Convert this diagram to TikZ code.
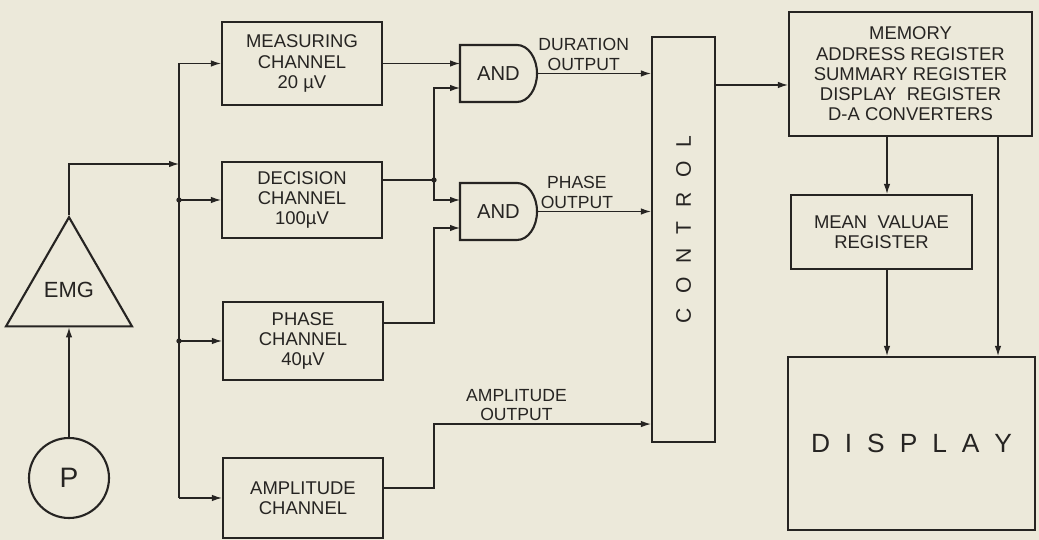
\documentclass[tikz,border=0pt]{standalone}
\usepackage{fontspec}
\setmainfont{Liberation Sans}
\usetikzlibrary{arrows.meta,shapes.geometric}
\definecolor{paper}{RGB}{236,233,218}
\definecolor{ink}{RGB}{38,36,34}
\begin{document}
\begin{tikzpicture}[font=\fontsize{10.5}{11.5}\selectfont, color=ink, line width=0.7pt,
  >={Latex[length=2mm,width=1.3mm]},
  box/.style={draw, line width=1.2pt, align=center, inner sep=1pt},
  gate/.style={minimum width=1.54cm, minimum height=1.14cm, inner sep=0pt, outer sep=0pt, font=\fontsize{11.5}{13}\selectfont},
  lbl/.style={align=center, inner sep=1.5pt, font=\fontsize{10}{11}\selectfont}]
\fill[paper] (0,0) rectangle (20.78,10.8);
\node[box, regular polygon, regular polygon sides=3, minimum size=2.91cm, inner sep=0pt, font=\fontsize{12.5}{14}\selectfont] (emg) at (1.38,5.0) {EMG};
\node[box, circle, minimum size=1.6cm, font=\fontsize{16}{18}\selectfont] (p) at (1.38,1.24) {P};
\node[box, minimum width=3.2cm, minimum height=1.66cm] (meas) at (6.04,9.53) {MEASURING\\CHANNEL\\20 µV};
\node[box, minimum width=3.2cm, minimum height=1.52cm] (dec) at (6.04,6.8) {DECISION\\CHANNEL\\100µV};
\node[box, minimum width=3.2cm, minimum height=1.56cm] (ph) at (6.06,3.98) {PHASE\\CHANNEL\\40µV};
\node[box, minimum width=3.2cm, minimum height=1.6cm] (ampl) at (6.06,0.84) {AMPLITUDE\\CHANNEL};
\node[gate] (and1) at (9.97,9.33) {AND};
\node[gate] (and2) at (9.97,6.57) {AND};
\draw[line width=1.2pt] (and1.south west) |- ([xshift=-4mm]and1.north east) arc[start angle=90, end angle=-90, x radius=4mm, y radius=5.7mm] -- cycle;
\draw[line width=1.2pt] (and2.south west) |- ([xshift=-4mm]and2.north east) arc[start angle=90, end angle=-90, x radius=4mm, y radius=5.7mm] -- cycle;
\node[box, minimum width=1.26cm, minimum height=8.1cm] (ctrl) at (13.67,6.01) {};
\node[rotate=90, font=\fontsize{12}{14}\selectfont] (ctrltext) at ([yshift=2mm]ctrl.center) {C\hspace{8pt}O\hspace{8pt}N\hspace{8pt}T\hspace{8pt}R\hspace{8pt}O\hspace{8pt}L};
\node[box, minimum width=4.86cm, minimum height=2.48cm] (mem) at (18.21,9.32) {MEMORY\\ADDRESS REGISTER\\SUMMARY REGISTER\\DISPLAY\ \ REGISTER\\D-A CONVERTERS};
\node[box, minimum width=3.62cm, minimum height=1.48cm] (mean) at (17.63,6.16) {MEAN\ \ VALUAE\\REGISTER};
\node[box, minimum width=4.94cm, minimum height=3.46cm, font=\fontsize{15}{18}\selectfont] (disp) at (18.23,1.93) {D\hspace{8.5pt}I\hspace{8.5pt}S\hspace{8.5pt}P\hspace{8.5pt}L\hspace{8.5pt}A\hspace{8.5pt}Y};
\coordinate (bus) at (3.58,0);
\coordinate (jn) at (8.68,0);
\coordinate (b0) at (3.58,7.52);
\coordinate (dout) at ([yshift=4mm]dec.east);
\coordinate (a2b) at ([yshift=-3.3mm]and2.west);
\coordinate (c3) at ([yshift=3.8mm]ctrl.south west);
\coordinate (m1) at ([yshift=-2.2mm]mem.west);
\coordinate (m2) at ([xshift=1.1mm]mean.north);
\coordinate (m3) at (19.96,0);
\draw[->] (p.north) -- (emg.side 2);
\draw[->] (emg.corner 1) |- (b0);
\draw[->] (bus |- ampl.west) |- (meas.west);
\draw[->] (bus |- ampl.west) -- (ampl.west);
\draw[->] (bus |- dec.west) -- (dec.west);
\draw[->] (bus |- ph.west) -- (ph.west);
\fill (bus |- dec.west) circle (1.5pt) (bus |- ph.west) circle (1.5pt);
\draw[->] (meas.east) -- (meas.east -| and1.west);
\draw (dout) -- (jn |- dout);
\draw[->] (jn |- dout) |- ([yshift=-2.9mm]and1.west);
\draw[->] (jn |- dout) |- ([yshift=2.3mm]and2.west);
\fill (jn |- dout) circle (1.5pt);
\draw[->] ([yshift=3.6mm]ph.east) -| (jn |- a2b) -- (a2b);
\draw[->] (and1.east) -- node[lbl, above, pos=.41] (durout) {DURATION\\OUTPUT} (and1.east -| ctrl.west);
\draw[->] (and2.east) -- node[lbl, above, pos=.35] (phout) {PHASE\\OUTPUT} (and2.east -| ctrl.west);
\draw[->] ([yshift=2mm]ampl.east) -| (jn |- c3) -- node[lbl, above, pos=.38] (ampout) {AMPLITUDE\\OUTPUT} (c3);
\draw[->] (ctrl.east |- m1) -- (m1);
\draw[->] (mem.south -| m2) -- (m2);
\draw[->] (mean.south -| m2) -- (disp.north -| m2);
\draw[->] (mem.south -| m3) -- (disp.north -| m3);
\end{tikzpicture}
\end{document}
